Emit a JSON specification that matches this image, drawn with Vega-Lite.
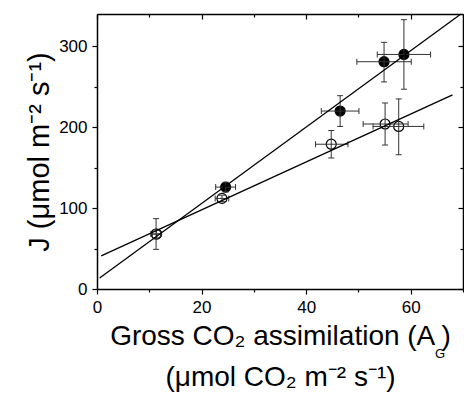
{
  "$schema": "https://vega.github.io/schema/vega-lite/v6.json",
  "width": 366,
  "height": 275,
  "autosize": "none",
  "padding": {"left": 97, "top": 14, "right": 1, "bottom": 121},
  "config": {
    "view": {"stroke": null},
    "font": "Liberation Sans",
    "axis": {
      "grid": false,
      "domainColor": "black",
      "domainWidth": 1.5,
      "tickColor": "black",
      "tickWidth": 1.2,
      "labelFont": "Liberation Sans",
      "titleFont": "Liberation Sans",
      "labelColor": "black",
      "titleColor": "black",
      "labelFontSize": 17,
      "titleFontWeight": "normal",
      "labelFlush": false,
      "labelOverlap": false
    }
  },
  "datasets": {
    "points": [
      {"series": "filled", "A": 11.4, "J": 68, "A_lo": 10.6, "A_hi": 12.2, "J_lo": 63, "J_hi": 73},
      {"series": "filled", "A": 24.6, "J": 126, "A_lo": 22.7, "A_hi": 26.5, "J_lo": 120, "J_hi": 132},
      {"series": "filled", "A": 46.5, "J": 220, "A_lo": 42.9, "A_hi": 50.1, "J_lo": 201, "J_hi": 239},
      {"series": "filled", "A": 54.9, "J": 281, "A_lo": 49.7, "A_hi": 60.1, "J_lo": 256, "J_hi": 305},
      {"series": "filled", "A": 58.7, "J": 290, "A_lo": 53.6, "A_hi": 63.8, "J_lo": 247, "J_hi": 333},
      {"series": "open", "A": 11.3, "J": 68, "A_lo": 10.3, "A_hi": 12.3, "J_lo": 49, "J_hi": 87},
      {"series": "open", "A": 23.9, "J": 112, "A_lo": 22.6, "A_hi": 25.2, "J_lo": 108, "J_hi": 116},
      {"series": "open", "A": 44.8, "J": 179, "A_lo": 41.8, "A_hi": 48.0, "J_lo": 162, "J_hi": 196},
      {"series": "open", "A": 55.1, "J": 204, "A_lo": 50.9, "A_hi": 59.5, "J_lo": 178, "J_hi": 230},
      {"series": "open", "A": 57.7, "J": 201, "A_lo": 52.8, "A_hi": 62.5, "J_lo": 166, "J_hi": 235}
    ],
    "fits": [
      {"series": "filled", "A": 0.5, "J": 13.5},
      {"series": "filled", "A": 69.6, "J": 340},
      {"series": "open", "A": 0.8, "J": 41},
      {"series": "open", "A": 68, "J": 240}
    ]
  },
  "layer": [
    {
      "data": {"name": "points"},
      "mark": {"type": "circle", "size": 100, "stroke": "black", "strokeWidth": 1.2, "opacity": 1},
      "encoding": {
        "x": {
          "field": "A", "type": "quantitative",
          "scale": {"domain": [0, 70], "nice": false, "zero": false},
          "axis": {
            "orient": "bottom",
            "values": [0, 10, 20, 30, 40, 50, 60, 70],
            "labelExpr": "datum.value % 20 === 0 ? datum.label : ''",
            "tickSize": 5,
            "labelPadding": 5,
            "title": ["Gross CO\u2082 assimilation (A  )", "(\u03bcmol CO\u2082 m\u207b\u00b2 s\u207b\u00b9)"],
            "titleFontSize": 28,
            "titleLineHeight": 41,
            "titlePadding": 7,
            "encoding": {"ticks": {"y2": {"value": {"expr": "datum.value % 20 === 0 ? 5 : 3"}}}}
          }
        },
        "y": {
          "field": "J", "type": "quantitative",
          "scale": {"domain": [0, 340], "nice": false, "zero": false},
          "axis": {
            "orient": "left",
            "values": [0, 50, 100, 150, 200, 250, 300],
            "labelExpr": "datum.value % 100 === 0 ? datum.label : ''",
            "tickSize": 5,
            "labelPadding": 5,
            "title": "J (\u03bcmol m\u207b\u00b2 s\u207b\u00b9)",
            "titleFontSize": 29,
            "titlePadding": 4,
            "encoding": {"ticks": {"x2": {"value": {"expr": "datum.value % 100 === 0 ? -5 : -3"}}}}
          }
        },
        "fill": {
          "field": "series", "type": "nominal",
          "scale": {"domain": ["filled", "open"], "range": ["black", "white"]},
          "legend": null
        }
      }
    },
    {
      "data": {"name": "points"},
      "mark": {"type": "rule", "color": "#333", "strokeWidth": 1},
      "encoding": {
        "x": {"field": "A", "type": "quantitative", "scale": {"domain": [0, 70], "nice": false, "zero": false}, "axis": null},
        "y": {"field": "J_lo", "type": "quantitative", "scale": {"domain": [0, 340], "nice": false, "zero": false}, "axis": null},
        "y2": {"field": "J_hi"}
      }
    },
    {
      "data": {"name": "points"},
      "mark": {"type": "rule", "color": "#333", "strokeWidth": 1},
      "encoding": {
        "y": {"field": "J", "type": "quantitative", "scale": {"domain": [0, 340], "nice": false, "zero": false}, "axis": null},
        "x": {"field": "A_lo", "type": "quantitative", "scale": {"domain": [0, 70], "nice": false, "zero": false}, "axis": null},
        "x2": {"field": "A_hi"}
      }
    },
    {
      "data": {"name": "points"},
      "mark": {"type": "tick", "orient": "horizontal", "size": 6, "thickness": 1, "color": "#333", "opacity": 1},
      "encoding": {
        "x": {"field": "A", "type": "quantitative", "scale": {"domain": [0, 70], "nice": false, "zero": false}, "axis": null},
        "y": {"field": "J_lo", "type": "quantitative", "scale": {"domain": [0, 340], "nice": false, "zero": false}, "axis": null}
      }
    },
    {
      "data": {"name": "points"},
      "mark": {"type": "tick", "orient": "horizontal", "size": 6, "thickness": 1, "color": "#333", "opacity": 1},
      "encoding": {
        "x": {"field": "A", "type": "quantitative", "scale": {"domain": [0, 70], "nice": false, "zero": false}, "axis": null},
        "y": {"field": "J_hi", "type": "quantitative", "scale": {"domain": [0, 340], "nice": false, "zero": false}, "axis": null}
      }
    },
    {
      "data": {"name": "points"},
      "mark": {"type": "tick", "orient": "vertical", "size": 6, "thickness": 1, "color": "#333", "opacity": 1},
      "encoding": {
        "x": {"field": "A_lo", "type": "quantitative", "scale": {"domain": [0, 70], "nice": false, "zero": false}, "axis": null},
        "y": {"field": "J", "type": "quantitative", "scale": {"domain": [0, 340], "nice": false, "zero": false}, "axis": null}
      }
    },
    {
      "data": {"name": "points"},
      "mark": {"type": "tick", "orient": "vertical", "size": 6, "thickness": 1, "color": "#333", "opacity": 1},
      "encoding": {
        "x": {"field": "A_hi", "type": "quantitative", "scale": {"domain": [0, 70], "nice": false, "zero": false}, "axis": null},
        "y": {"field": "J", "type": "quantitative", "scale": {"domain": [0, 340], "nice": false, "zero": false}, "axis": null}
      }
    },
    {
      "data": {"name": "fits"},
      "mark": {"type": "line", "color": "black", "strokeWidth": 1.3},
      "encoding": {
        "x": {
          "field": "A", "type": "quantitative",
          "scale": {"domain": [0, 70], "nice": false, "zero": false},
          "axis": {
            "orient": "top",
            "values": [0, 10, 20, 30, 40, 50, 60, 70],
            "labels": false,
            "title": null,
            "tickSize": 5,
            "encoding": {"ticks": {"y2": {"value": {"expr": "datum.value % 20 === 0 ? 5 : 3"}}}}
          }
        },
        "y": {
          "field": "J", "type": "quantitative",
          "scale": {"domain": [0, 340], "nice": false, "zero": false},
          "axis": {
            "orient": "right",
            "values": [0, 50, 100, 150, 200, 250, 300],
            "labels": false,
            "title": null,
            "tickSize": 5,
            "encoding": {"ticks": {"x2": {"value": {"expr": "datum.value % 100 === 0 ? -5 : -3"}}}}
          }
        },
        "detail": {"field": "series", "type": "nominal"}
      }
    },
    {
      "data": {"values": [{}]},
      "mark": {"type": "text", "text": "G", "font": "Liberation Sans", "fontSize": 13, "align": "center", "baseline": "middle", "dy": 65, "color": "black"},
      "encoding": {
        "x": {"datum": 65.6, "type": "quantitative", "scale": {"domain": [0, 70], "nice": false, "zero": false}, "axis": null},
        "y": {"datum": 0, "type": "quantitative", "scale": {"domain": [0, 340], "nice": false, "zero": false}, "axis": null}
      }
    }
  ],
  "resolve": {"axis": {"x": "independent", "y": "independent"}}
}
